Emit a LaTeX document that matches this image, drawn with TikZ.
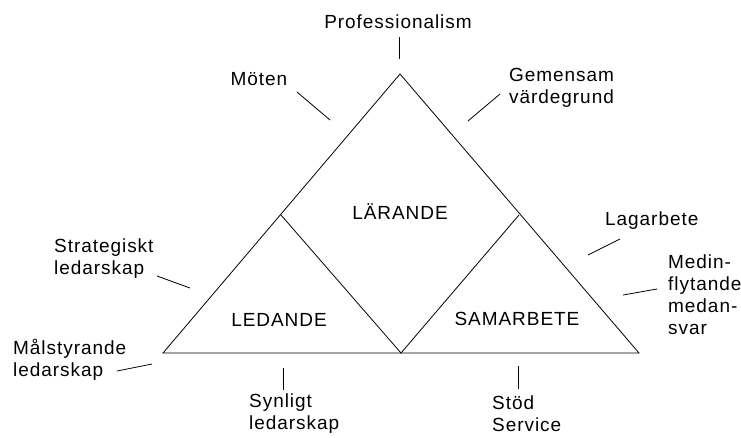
\documentclass[tikz,border=0pt]{standalone}
\usepackage{fontspec}
\setmainfont{Liberation Sans}[LetterSpace=5]

\begin{document}
\begin{tikzpicture}[x=1pt, y=-1pt,
    lbl/.style={inner sep=0pt, font=\fontsize{19}{22}\selectfont},
    lft/.style={lbl, anchor=west, align=left},
    edge/.style={line width=0.8pt}]
                \useasboundingbox (0,0) rectangle (741,437);

                % Corners
                \coordinate (top) at (400,74);
                \coordinate (bl) at (163,353);
                \coordinate (br) at (639,353);
                \coordinate (ml) at (281,215);
                \coordinate (mr) at (519,215);
                \coordinate (bm) at (401,353);

                % Nodes
                \node[lbl] (prof) at (398,22) {Professionalism};
                \node[lbl] (moten) at (259,79) {Möten};
                \node[lft] (gem) at (509,88) {Gemensam\\värdegrund};
                \node[lbl] (lar) at (400,212) {LÄRANDE};
                \node[lbl] (led) at (279,320) {LEDANDE};
                \node[lbl] (sam) at (517,319) {SAMARBETE};
                \node[lft] (strat) at (54,259) {Strategiskt\\ledarskap};
                \node[lft] (mal) at (13,360) {Målstyrande\\ledarskap};
                \node[lft] (lag) at (605,221) {Lagarbete};
                \node[lft] (med) at (668,295) {Medin-\\flytande\\medan-\\svar};
                \node[lft] (syn) at (249,414) {Synligt\\ledarskap};
                \node[lft] (stod) at (492,414) {Stöd\\Service};

                % Ends of the pointers
                \coordinate (p1) at (399,37);
                \coordinate (p2) at (399,59);
                \coordinate (m1) at (297,92);
                \coordinate (m2) at (330,120);
                \coordinate (g1) at (500,94);
                \coordinate (g2) at (468,121);
                \coordinate (s1) at (157,276);
                \coordinate (s2) at (190,288);
                \coordinate (a1) at (117,371);
                \coordinate (a2) at (152,364);
                \coordinate (l1) at (620,239);
                \coordinate (l2) at (588,255);
                \coordinate (f1) at (657,289);
                \coordinate (f2) at (623,295);
                \coordinate (y1) at (283,368);
                \coordinate (y2) at (283,390);
                \coordinate (d1) at (518,366);
                \coordinate (d2) at (518,389);

                % Edges
                \draw[edge] (bl) -- (top) -- (br) -- cycle;
                \draw[edge] (ml) -- (bm) -- (mr);
                \draw[edge] (p1) -- (p2);
                \draw[edge] (m1) -- (m2);
                \draw[edge] (g1) -- (g2);
                \draw[edge] (s1) -- (s2);
                \draw[edge] (a1) -- (a2);
                \draw[edge] (l1) -- (l2);
                \draw[edge] (f1) -- (f2);
                \draw[edge] (y1) -- (y2);
                \draw[edge] (d1) -- (d2);
\end{tikzpicture}
\end{document}
